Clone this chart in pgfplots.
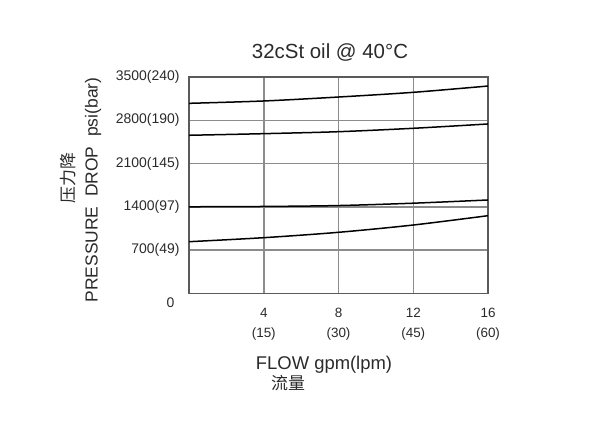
\documentclass[border=0pt]{standalone}
\usepackage{pgfplots}
\pgfplotsset{compat=1.18}
\usepackage{fontspec}
\setmainfont{Liberation Sans}
\newfontfamily\cjk{Noto Sans CJK SC}
\definecolor{txt}{HTML}{2A2A2A}
\definecolor{gridc}{HTML}{8C8C8C}
\definecolor{framec}{HTML}{5A5A5A}
\pgfplotsset{curve/.style={black, line width=1.5bp, smooth, mark=none}}
\begin{document}
\begin{tikzpicture}[x=1bp,y=1bp]
\path (0,0) rectangle (592,425);
\begin{axis}[
  at={(189bp,131.7bp)}, anchor=south west,
  scale only axis, width=299bp, height=216.3bp,
  xmin=0, xmax=16, ymin=0, ymax=3500,
  xtick={4,8,12,16},
  xticklabels={{4\\(15)},{8\\(30)},{12\\(45)},{16\\(60)}},
  ytick={0,700,1400,2100,2800,3500},
  yticklabels={,700(49),1400(97),2100(145),2800(190),3500(240)},
  grid=major,
  major grid style={gridc, line width=1.5bp},
  axis line style={framec, line width=1.6bp},
  major tick length=0pt,
  xticklabel style={font=\fontsize{13.5}{20}\selectfont, text=txt, align=center, yshift=-11bp},
  yticklabel style={font=\fontsize{14}{16}\selectfont, text=txt, xshift=-6bp},
  clip=false,
]
\addplot[curve] coordinates {(0,3074) (4,3112) (8,3176) (12,3252) (16,3354)};
\addplot[curve] coordinates {(0,2557) (4,2583) (8,2615) (12,2670) (16,2740)};
\addplot[curve] coordinates {(0,1400) (4,1405) (8,1420) (12,1458) (16,1510)};
\addplot[curve] coordinates {(0,835) (4,900) (8,987) (12,1105) (16,1256)};
\end{axis}
\node[text=txt, font=\fontsize{14}{16}\selectfont, anchor=east] at (178,122) {0};
\node[text=txt, font=\fontsize{20.5}{22}\selectfont] at (330,372) {32cSt oil @ 40°C};
\node[text=txt, rotate=90, font=\fontsize{17.5}{19}\selectfont] at (93,235) {PRESSURE\ \ DROP\ \ psi(bar)};
\node[text=txt, rotate=90, font=\cjk\fontsize{17}{19}\selectfont] at (68,247) {压力降};
\node[text=txt, font=\fontsize{18.5}{20}\selectfont] at (324,60) {FLOW gpm(lpm)};
\node[text=txt, font=\cjk\fontsize{17}{19}\selectfont] at (288,42) {流量};
\end{tikzpicture}
\end{document}
